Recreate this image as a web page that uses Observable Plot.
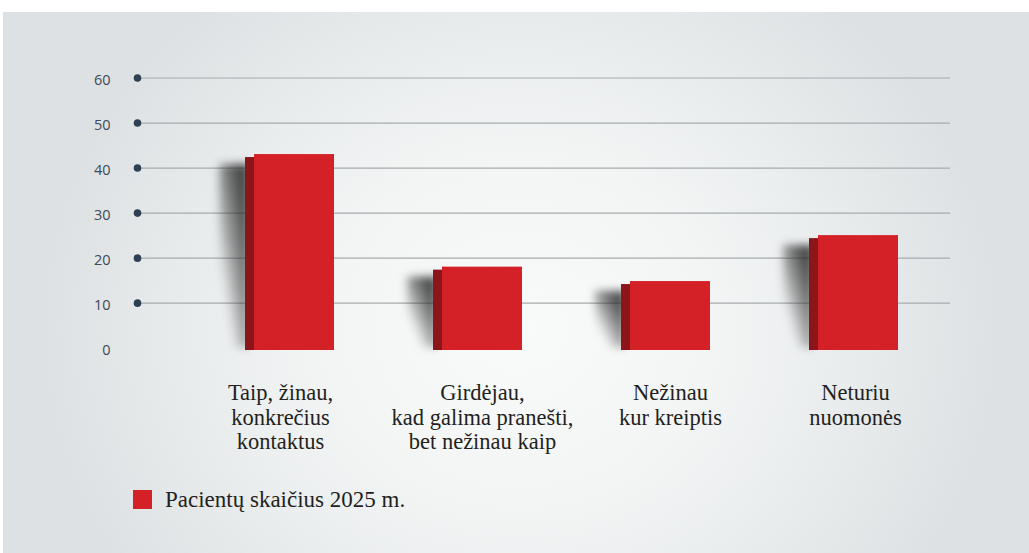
<!DOCTYPE html>
<html>
<head>
<meta charset="utf-8">
<script src="https://cdn.jsdelivr.net/npm/d3@7"></script>
<script src="https://cdn.jsdelivr.net/npm/@observablehq/plot@0.6"></script>
<style>
  html, body { margin: 0; padding: 0; background: #ffffff; }
  #panel {
    position: absolute; left: 3px; top: 12px; width: 1026px; height: 541px;
    background: radial-gradient(ellipse 480px 430px at 517px 318px, #f9fafa 0%, #f3f5f5 40%, #e7eaeb 75%, #dde1e3 100%);
    overflow: hidden;
  }
  #legend {
    position: absolute; left: 130px; top: 478px; height: 19px;
    display: flex; align-items: center;
    font-family: "Liberation Serif", serif; font-size: 23px; color: #231f20;
  }
  #legend .sw { width: 19px; height: 19px; background: #d42027; margin-right: 13px; }
</style>
</head>
<body>
<div id="panel"><div id="chart"></div><div id="legend"></div></div>
<script>
const categories = [
  "Taip, žinau,\nkonkrečius\nkontaktus",
  "Girdėjau,\nkad galima pranešti,\nbet nežinau kaip",
  "Nežinau\nkur kreiptis",
  "Neturiu\nnuomonės"
];
const values = [43, 18, 14.8, 25];
const yTicks = [0, 10, 20, 30, 40, 50, 60];
const seriesName = "Pacientų skaičius 2025 m.";

const data = categories.map((c, i) => ({category: c, value: values[i]}));
const gridTicks = yTicks.filter(d => d > 0);

const defs = () => {
  const d = d3.create("svg:defs");
  const g = d.append("linearGradient").attr("id", "shadowGrad")
    .attr("x1", 0).attr("y1", 1).attr("x2", 1).attr("y2", 0);
  g.append("stop").attr("offset", "0.22").attr("stop-color", "#303030").attr("stop-opacity", 0);
  g.append("stop").attr("offset", "0.5").attr("stop-color", "#303030").attr("stop-opacity", 0.45);
  g.append("stop").attr("offset", "0.75").attr("stop-color", "#252525").attr("stop-opacity", 0.75);
  g.append("stop").attr("offset", "1").attr("stop-color", "#202020").attr("stop-opacity", 0.9);
  return d.node();
};

const labelStyle = {frameAnchor: "bottom", lineAnchor: "top", dy: 35, fontSize: 22.5, lineHeight: 1.075,
  fontFamily: "Liberation Serif", fill: "#231f20"};

const chart = Plot.plot({
  width: 1026,
  height: 460,
  marginTop: 65.5,
  marginBottom: 124.3,
  marginLeft: 134,
  marginRight: 79,
  x: {domain: categories, range: [141.2, 1005.2], padding: 0.576, axis: null},
  y: {domain: [0, 60], axis: null},
  style: {background: "transparent", overflow: "visible"},
  marks: [
    defs,
    Plot.ruleY(gridTicks, {y: d => d, stroke: "#a6abae", strokeWidth: 1.2}),
    Plot.dot(gridTicks, {y: d => d, frameAnchor: "left", r: 3.8, fill: "#2e4051", stroke: "none"}),
    Plot.text(yTicks, {y: d => d, text: d => String(d), frameAnchor: "left", textAnchor: "end",
      dx: -27, dy: 2, fontSize: 14.5, fontFamily: "Open Sans", fill: "#3d4a57"}),
    Plot.barY(data, {x: "category", y: "value", fill: "url(#shadowGrad)", insetRight: 50, dx: -35,
      insetTop: 10}),
    Plot.barY(data, {x: "category", y: "value", fill: "#8c1519", insetRight: 71, dx: -9,
      insetTop: 3, insetBottom: -2.3}),
    Plot.barY(data, {x: "category", y: "value", fill: "#d42027", insetBottom: -2.3}),
    Plot.text(categories.slice(0, 1), {x: d => d, text: d => d, dx: -14, ...labelStyle}),
    Plot.text(categories.slice(1, 3), {x: d => d, text: d => d, ...labelStyle}),
    Plot.text(categories.slice(3), {x: d => d, text: d => d, dx: -3, ...labelStyle})
  ]
});

d3.select(chart).selectAll('[fill="url(#shadowGrad)"]').style("filter", "blur(4.5px)");
document.getElementById("chart").appendChild(chart);

const legend = document.getElementById("legend");
const sw = document.createElement("div"); sw.className = "sw";
const lab = document.createElement("span"); lab.textContent = seriesName;
legend.appendChild(sw); legend.appendChild(lab);
</script>
</body>
</html>
